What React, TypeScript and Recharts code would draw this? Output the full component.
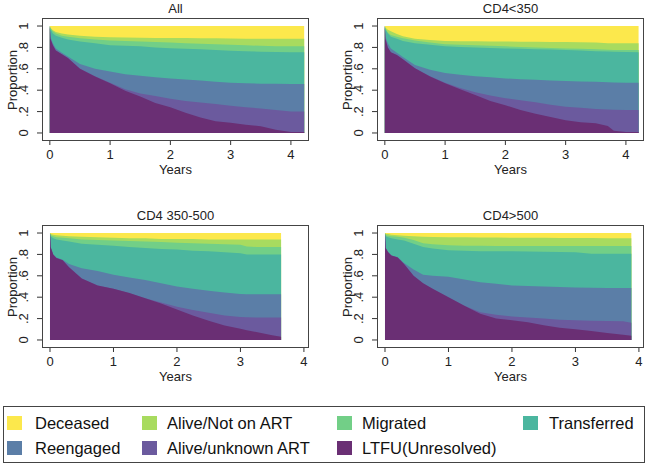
import React from 'react';
import { AreaChart, Area, XAxis, YAxis } from 'recharts';

// Cumulative proportions (upper edge of each band).
// Bands, bottom to top: LTFU, Alive/unknown ART, Reengaged, Transferred,
// Migrated, Alive/Not on ART, Deceased.

const allYears = [0, 0.01, 0.05, 0.1, 0.2, 0.3, 0.5, 0.75, 1, 1.25, 1.5, 1.75, 2, 2.25, 2.5, 2.75, 3, 3.25, 3.5, 3.75, 4, 4.22];
const allDeceased = [1, 1, 1, 1, 1, 1, 1, 1, 1, 1, 1, 1, 1, 1, 1, 1, 1, 1, 1, 1, 1, 1];
const allAliveNoArt = [1, 0.985, 0.96, 0.945, 0.93, 0.92, 0.91, 0.9, 0.895, 0.893, 0.89, 0.889, 0.888, 0.887, 0.886, 0.885, 0.883, 0.882, 0.881, 0.88, 0.88, 0.88];
const allMigrated = [1, 0.98, 0.95, 0.93, 0.91, 0.9, 0.885, 0.875, 0.865, 0.86, 0.855, 0.85, 0.845, 0.84, 0.835, 0.83, 0.825, 0.82, 0.815, 0.81, 0.81, 0.81];
const allTransferred = [1, 0.97, 0.93, 0.91, 0.89, 0.875, 0.855, 0.84, 0.82, 0.815, 0.81, 0.8, 0.792, 0.787, 0.782, 0.775, 0.768, 0.763, 0.76, 0.757, 0.755, 0.755];
const allReengaged = [1, 0.9, 0.84, 0.79, 0.75, 0.715, 0.645, 0.6, 0.575, 0.55, 0.535, 0.52, 0.51, 0.5, 0.49, 0.48, 0.47, 0.465, 0.46, 0.46, 0.458, 0.458];
const allAliveUnknown = [1, 0.88, 0.82, 0.77, 0.735, 0.7, 0.6, 0.53, 0.47, 0.41, 0.37, 0.345, 0.32, 0.3, 0.285, 0.27, 0.255, 0.24, 0.23, 0.215, 0.2, 0.2];
const allLtfu = [1, 0.88, 0.82, 0.77, 0.735, 0.7, 0.6, 0.527, 0.465, 0.395, 0.34, 0.28, 0.24, 0.19, 0.145, 0.11, 0.095, 0.078, 0.062, 0.03, 0.01, 0.01];

const lowYears = [0, 0.01, 0.05, 0.1, 0.2, 0.3, 0.5, 0.75, 1, 1.25, 1.5, 1.75, 2, 2.25, 2.5, 2.75, 3, 3.25, 3.5, 3.7, 3.8, 4, 4.21];
const lowDeceased = [1, 1, 1, 1, 1, 1, 1, 1, 1, 1, 1, 1, 1, 1, 1, 1, 1, 1, 1, 1, 1, 1, 1];
const lowAliveNoArt = [1, 0.985, 0.965, 0.95, 0.925, 0.905, 0.88, 0.87, 0.86, 0.858, 0.857, 0.856, 0.855, 0.853, 0.852, 0.851, 0.85, 0.848, 0.846, 0.84, 0.84, 0.84, 0.84];
const lowMigrated = [1, 0.975, 0.94, 0.915, 0.9, 0.885, 0.865, 0.845, 0.83, 0.825, 0.82, 0.815, 0.81, 0.805, 0.8, 0.795, 0.79, 0.787, 0.783, 0.778, 0.775, 0.775, 0.775];
const lowTransferred = [1, 0.97, 0.93, 0.9, 0.88, 0.86, 0.84, 0.825, 0.81, 0.805, 0.8, 0.795, 0.79, 0.787, 0.783, 0.78, 0.775, 0.77, 0.765, 0.762, 0.76, 0.757, 0.755];
const lowReengaged = [1, 0.9, 0.84, 0.79, 0.75, 0.71, 0.635, 0.59, 0.56, 0.545, 0.53, 0.52, 0.51, 0.503, 0.497, 0.49, 0.486, 0.482, 0.478, 0.475, 0.473, 0.47, 0.47];
const lowAliveUnknown = [1, 0.88, 0.8, 0.755, 0.73, 0.69, 0.605, 0.53, 0.47, 0.42, 0.38, 0.35, 0.325, 0.305, 0.287, 0.265, 0.246, 0.235, 0.224, 0.22, 0.218, 0.215, 0.215];
const lowLtfu = [1, 0.88, 0.8, 0.755, 0.73, 0.69, 0.605, 0.527, 0.465, 0.41, 0.355, 0.3, 0.26, 0.215, 0.18, 0.15, 0.12, 0.1, 0.09, 0.065, 0.02, 0.01, 0.01];

const midYears = [0, 0.01, 0.05, 0.1, 0.2, 0.3, 0.5, 0.75, 1, 1.25, 1.5, 1.75, 2, 2.25, 2.5, 2.75, 3, 3.1, 3.25, 3.5, 3.64];
const midDeceased = [1, 1, 1, 1, 1, 1, 1, 1, 1, 1, 1, 1, 1, 1, 1, 1, 1, 1, 1, 1, 1];
const midAliveNoArt = [1, 0.99, 0.985, 0.98, 0.975, 0.97, 0.965, 0.96, 0.955, 0.95, 0.95, 0.945, 0.945, 0.945, 0.94, 0.94, 0.94, 0.94, 0.94, 0.94, 0.94];
const midMigrated = [1, 0.98, 0.97, 0.96, 0.955, 0.95, 0.94, 0.935, 0.93, 0.925, 0.92, 0.915, 0.91, 0.905, 0.9, 0.895, 0.89, 0.875, 0.87, 0.87, 0.87];
const midTransferred = [1, 0.97, 0.95, 0.94, 0.93, 0.92, 0.9, 0.89, 0.88, 0.87, 0.86, 0.85, 0.845, 0.835, 0.83, 0.82, 0.81, 0.8, 0.8, 0.8, 0.8];
const midReengaged = [1, 0.87, 0.8, 0.77, 0.75, 0.71, 0.67, 0.645, 0.61, 0.585, 0.56, 0.53, 0.5, 0.48, 0.46, 0.445, 0.43, 0.428, 0.427, 0.427, 0.427];
const midAliveUnknown = [1, 0.87, 0.8, 0.766, 0.745, 0.68, 0.575, 0.51, 0.48, 0.44, 0.39, 0.35, 0.31, 0.28, 0.255, 0.23, 0.215, 0.212, 0.21, 0.21, 0.21];
const midLtfu = [1, 0.87, 0.8, 0.766, 0.745, 0.68, 0.575, 0.51, 0.48, 0.44, 0.39, 0.34, 0.285, 0.23, 0.18, 0.135, 0.105, 0.09, 0.075, 0.045, 0.03];

const highYears = [0, 0.01, 0.05, 0.1, 0.2, 0.3, 0.45, 0.6, 0.75, 1, 1.25, 1.5, 1.75, 2, 2.25, 2.5, 2.75, 3, 3.25, 3.5, 3.75, 3.88];
const highDeceased = [1, 1, 1, 1, 1, 1, 1, 1, 1, 1, 1, 1, 1, 1, 1, 1, 1, 1, 1, 1, 1, 1];
const highAliveNoArt = [1, 0.99, 0.99, 0.985, 0.98, 0.975, 0.97, 0.965, 0.963, 0.96, 0.96, 0.958, 0.957, 0.956, 0.955, 0.955, 0.954, 0.953, 0.953, 0.952, 0.952, 0.952];
const highMigrated = [1, 0.98, 0.975, 0.97, 0.965, 0.955, 0.935, 0.905, 0.895, 0.885, 0.882, 0.88, 0.878, 0.878, 0.878, 0.878, 0.878, 0.878, 0.878, 0.878, 0.878, 0.878];
const highTransferred = [1, 0.97, 0.96, 0.95, 0.94, 0.93, 0.9, 0.87, 0.855, 0.84, 0.835, 0.83, 0.83, 0.83, 0.827, 0.825, 0.822, 0.82, 0.807, 0.807, 0.807, 0.807];
const highReengaged = [1, 0.86, 0.82, 0.79, 0.775, 0.72, 0.66, 0.61, 0.6, 0.59, 0.565, 0.54, 0.525, 0.51, 0.505, 0.5, 0.495, 0.49, 0.488, 0.487, 0.486, 0.486];
const highAliveUnknown = [1, 0.86, 0.82, 0.79, 0.77, 0.71, 0.6, 0.53, 0.48, 0.4, 0.32, 0.26, 0.235, 0.22, 0.21, 0.2, 0.19, 0.184, 0.18, 0.178, 0.175, 0.16];
const highLtfu = [1, 0.86, 0.82, 0.79, 0.77, 0.71, 0.6, 0.53, 0.48, 0.4, 0.32, 0.246, 0.2, 0.184, 0.165, 0.137, 0.115, 0.1, 0.085, 0.065, 0.05, 0.04];

const xTicks = [0, 1, 2, 3, 4];
const yTicks = [0, 0.2, 0.4, 0.6, 0.8, 1];
const yTickLabels = ['0', '.2', '.4', '.6', '.8', '1'];

const SERIES = [
  { key: 'deceased', name: 'Deceased', color: '#fce84c' },
  { key: 'aliveNoArt', name: 'Alive/Not on ART', color: '#a8db5f' },
  { key: 'migrated', name: 'Migrated', color: '#72cf87' },
  { key: 'transferred', name: 'Transferred', color: '#4bb69f' },
  { key: 'reengaged', name: 'Reengaged', color: '#5b7ea7' },
  { key: 'aliveUnknown', name: 'Alive/unknown ART', color: '#6b5a9e' },
  { key: 'ltfu', name: 'LTFU(Unresolved)', color: '#6a2f74' },
];

const FONT = '"Liberation Sans", Arial, sans-serif';

function buildRows(years: number[], cols: Record<string, number[]>) {
  return years.map((year, i) => {
    const row: Record<string, number> = { year };
    Object.keys(cols).forEach((k) => {
      row[k] = cols[k][i];
    });
    return row;
  });
}

const PANELS = [
  {
    title: 'All', left: 0, top: 0, xDomain: [-0.13, 4.3],
    rows: buildRows(allYears, {
      deceased: allDeceased, aliveNoArt: allAliveNoArt, migrated: allMigrated, transferred: allTransferred,
      reengaged: allReengaged, aliveUnknown: allAliveUnknown, ltfu: allLtfu,
    }),
  },
  {
    title: 'CD4<350', left: 335, top: 0, xDomain: [-0.13, 4.3],
    rows: buildRows(lowYears, {
      deceased: lowDeceased, aliveNoArt: lowAliveNoArt, migrated: lowMigrated, transferred: lowTransferred,
      reengaged: lowReengaged, aliveUnknown: lowAliveUnknown, ltfu: lowLtfu,
    }),
  },
  {
    title: 'CD4 350-500', left: 0, top: 207, xDomain: [-0.126, 4.08],
    rows: buildRows(midYears, {
      deceased: midDeceased, aliveNoArt: midAliveNoArt, migrated: midMigrated, transferred: midTransferred,
      reengaged: midReengaged, aliveUnknown: midAliveUnknown, ltfu: midLtfu,
    }),
  },
  {
    title: 'CD4>500', left: 335, top: 207, xDomain: [-0.126, 4.08],
    rows: buildRows(highYears, {
      deceased: highDeceased, aliveNoArt: highAliveNoArt, migrated: highMigrated, transferred: highTransferred,
      reengaged: highReengaged, aliveUnknown: highAliveUnknown, ltfu: highLtfu,
    }),
  },
];

// each panel is 325x185; plot frame spans x 42..309, y 18..141
const W = 325;
const H = 185;
const FRAME = { top: 18, right: 16, bottom: 44, left: 42 };
const Y_AXIS_W = 30;
const X_AXIS_H = 30;
const M = {
  top: FRAME.top,
  right: FRAME.right,
  bottom: FRAME.bottom - X_AXIS_H,
  left: FRAME.left - Y_AXIS_W,
};

const renderYTick = (props: any) => {
  const { x, y, payload } = props;
  const idx = yTicks.indexOf(payload.value);
  const bx = x - 7;
  return (
    <text
      x={bx}
      y={y}
      transform={`rotate(-90 ${bx} ${y})`}
      textAnchor="middle"
      fontSize={13}
      fill="#222"
      fontFamily={FONT}
    >
      {idx >= 0 ? yTickLabels[idx] : payload.value}
    </text>
  );
};

const textStyle: React.CSSProperties = {
  position: 'absolute',
  fontSize: 13,
  lineHeight: '13px',
  whiteSpace: 'nowrap',
  color: '#222',
};

function Panel({ panel }: { panel: (typeof PANELS)[number] }) {
  const cx = FRAME.left + (W - FRAME.left - FRAME.right) / 2;
  return (
    <div style={{ position: 'absolute', left: panel.left, top: panel.top, width: W, height: H }}>
      <AreaChart width={W} height={H} data={panel.rows} margin={M}>
        <XAxis
          type="number"
          dataKey="year"
          domain={panel.xDomain}
          ticks={xTicks}
          interval={0}
          allowDataOverflow
          height={X_AXIS_H}
          axisLine={false}
          tickSize={4}
          tickMargin={5}
          tickLine={{ stroke: '#333' }}
          tick={{ fontSize: 13, fill: '#222', fontFamily: FONT }}
        />
        <YAxis
          type="number"
          domain={[-0.075, 1.075]}
          ticks={yTicks}
          interval={0}
          allowDataOverflow
          width={Y_AXIS_W}
          axisLine={false}
          tickSize={5}
          tickMargin={2}
          tickLine={{ stroke: '#333' }}
          tick={renderYTick}
        />
        {SERIES.map((s) => (
          <Area
            key={s.key}
            dataKey={s.key}
            type="linear"
            stroke="none"
            fill={s.color}
            fillOpacity={1}
            baseValue={0}
            dot={false}
            activeDot={false}
            isAnimationActive={false}
          />
        ))}
      </AreaChart>
      {/* plot region border */}
      <div
        style={{
          position: 'absolute',
          left: FRAME.left,
          top: FRAME.top,
          width: W - FRAME.left - FRAME.right,
          height: H - FRAME.top - FRAME.bottom,
          border: '1px solid #444',
          boxSizing: 'border-box',
          pointerEvents: 'none',
        }}
      />
      <div style={{ ...textStyle, left: cx, top: 1.7, transform: 'translateX(-50%)' }}>{panel.title}</div>
      <div style={{ ...textStyle, left: cx, top: 163, transform: 'translateX(-50%)' }}>Years</div>
      <div style={{ ...textStyle, left: 12, top: 79.5, transform: 'translate(-50%, -50%) rotate(-90deg)' }}>
        Proportion
      </div>
    </div>
  );
}

const LEGEND_COLS = [
  { sq: 7, tx: 35 },
  { sq: 142, tx: 167 },
  { sq: 337, tx: 362 },
  { sq: 523, tx: 549 },
];

function Legend() {
  return (
    <div
      style={{
        position: 'absolute',
        left: 3,
        top: 406,
        width: 642,
        height: 57,
        border: '1px solid #444',
        boxSizing: 'border-box',
      }}
    >
      {SERIES.map((s, i) => {
        const col = LEGEND_COLS[i % 4];
        const row = Math.floor(i / 4);
        return (
          <React.Fragment key={s.key}>
            <div
              style={{
                position: 'absolute',
                left: col.sq - 4,
                top: 9 + row * 25,
                width: 15,
                height: 14,
                background: s.color,
              }}
            />
            <div
              style={{
                position: 'absolute',
                left: col.tx - 4,
                top: 8.3 + row * 24.5,
                fontSize: 16.5,
                lineHeight: '16.5px',
                whiteSpace: 'nowrap',
                color: '#111',
              }}
            >
              {s.name}
            </div>
          </React.Fragment>
        );
      })}
    </div>
  );
}

export default function App() {
  return (
    <div
      style={{
        position: 'absolute',
        left: 0,
        top: 0,
        width: 650,
        height: 465,
        background: '#fff',
        overflow: 'hidden',
        fontFamily: FONT,
      }}
    >
      {PANELS.map((p) => (
        <Panel key={p.title} panel={p} />
      ))}
      <Legend />
    </div>
  );
}
